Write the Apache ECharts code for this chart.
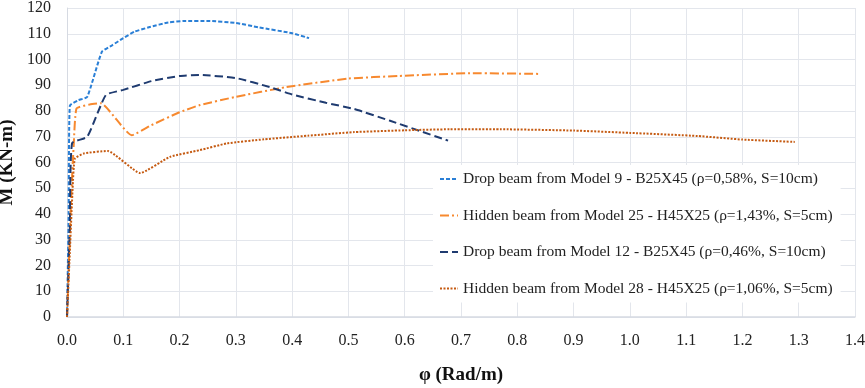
<!DOCTYPE html>
<html>
<head>
<meta charset="utf-8">
<script src="https://cdn.jsdelivr.net/npm/echarts@6/dist/echarts.min.js"></script>
<style>
html, body { margin: 0; padding: 0; background: #fff; }
#chart { width: 865px; height: 388px; }
</style>
</head>
<body>
<div id="chart"></div>
<script>
// series names
var names = [
	'Drop beam from Model 9 - B25X45 (\u03c1=0,58%, S=10cm)',
	'Hidden beam from Model 25 - H45X25 (\u03c1=1,43%, S=5cm)',
	'Drop beam from Model 12 - B25X45 (\u03c1=0,46%, S=10cm)',
	'Hidden beam from Model 28 - H45X25 (\u03c1=1,06%, S=5cm)'
];

// Model 9 drop beam
var m9Phi = [0, 0.003, 0.005, 0.02, 0.036, 0.062, 0.08, 0.1, 0.12, 0.147, 0.18, 0.21, 0.25, 0.3, 0.34, 0.4, 0.43];
var m9M = [0, 40, 82, 84.2, 85.5, 103, 105.5, 108.3, 110.8, 112.6, 114.4, 115, 115, 114.2, 112.5, 110.2, 108.3];

// Model 25 hidden beam
var m25Phi = [0, 0.008, 0.012, 0.017, 0.04, 0.06, 0.115, 0.15, 0.2, 0.236, 0.3, 0.39, 0.5, 0.59, 0.72, 0.84];
var m25M = [0, 50, 67, 81, 82.5, 83, 70.6, 74.5, 79.5, 82.3, 85.5, 89.3, 92.6, 93.6, 94.7, 94.4];

// Model 12 drop beam
var m12Phi = [0, 0.005, 0.009, 0.036, 0.069, 0.1, 0.15, 0.2, 0.236, 0.3, 0.36, 0.4, 0.46, 0.51, 0.574, 0.677];
var m12M = [0, 35, 67.5, 70, 86.2, 88.2, 91.6, 93.6, 94, 92.8, 89.3, 86.4, 83.2, 80.8, 76.2, 68.5];

// Model 28 hidden beam
var m28Phi = [0, 0.005, 0.01, 0.014, 0.03, 0.072, 0.13, 0.183, 0.236, 0.284, 0.35, 0.428, 0.51, 0.6, 0.68, 0.77, 0.9, 1.0, 1.12, 1.2, 1.293];
var m28M = [0, 25, 50, 61.5, 63.5, 64.5, 55.9, 62.2, 64.8, 67.4, 69, 70.4, 71.8, 72.5, 72.9, 72.9, 72.4, 71.5, 70.3, 68.9, 68];

var colors = ['#2a7fd6', '#f7892f', '#1f3b70', '#c55a11'];
var dashes = [[4, 2], [9, 3, 2, 3], [8, 4], [2, 1.5]];

function pairs(xs, ys) {
	var out = [];
	for (var i = 0; i < xs.length; i++) {
		out.push([xs[i], ys[i]]);
	}
	return out;
}

var allData = [pairs(m9Phi, m9M), pairs(m25Phi, m25M), pairs(m12Phi, m12M), pairs(m28Phi, m28M)];

var series = [];
for (var k = 0; k < names.length; k++) {
	series.push({
		name: names[k],
		type: 'line',
		smooth: 0.15,
		symbol: 'none',
		data: allData[k],
		lineStyle: { color: colors[k], width: 2, type: dashes[k] },
		itemStyle: { color: colors[k] }
	});
}

var serif = 'Liberation Serif';
var chart = echarts.init(document.getElementById('chart'));
var option = {
	animation: false,
	backgroundColor: '#fff',
	grid: { left: 67, right: 10, top: 8, bottom: 71, outerBoundsMode: 'none', containLabel: false },
	legend: {
		orient: 'vertical',
		left: 433,
		top: 165,
		itemWidth: 18,
		itemHeight: 10,
		itemGap: 20.5,
		padding: [6, 8, 6, 6],
		backgroundColor: '#fff',
		itemStyle: { opacity: 0 },
		textStyle: { fontFamily: serif, fontSize: 15.5, color: '#222' },
		data: names
	},
	xAxis: {
		type: 'value',
		min: 0,
		max: 1.4,
		interval: 0.1,
		name: '\u03c6 (Rad/m)',
		nameLocation: 'middle',
		nameGap: 49,
		nameTextStyle: { fontFamily: serif, fontSize: 19, fontWeight: 'bold', color: '#111' },
		axisLine: { lineStyle: { color: '#d6dae2', width: 1.5 } },
		axisTick: { show: false },
		axisLabel: {
			fontFamily: serif, fontSize: 16, color: '#222', margin: 16,
			formatter: function (v) { return v.toFixed(1); }
		},
		splitLine: { lineStyle: { color: '#e3e6ec' } }
	},
	yAxis: {
		type: 'value',
		min: 0,
		max: 120,
		interval: 10,
		name: 'M (KN-m)',
		nameLocation: 'middle',
		nameGap: 42,
		nameTextStyle: { fontFamily: serif, fontSize: 19, fontWeight: 'bold', color: '#111' },
		axisLine: { show: true, lineStyle: { color: '#d6dae2' } },
		axisTick: { show: false },
		axisLabel: { fontFamily: serif, fontSize: 16, color: '#222', margin: 16 },
		splitLine: { lineStyle: { color: '#e3e6ec' } }
	},
	series: series
};
chart.setOption(option);
</script>
</body>
</html>
